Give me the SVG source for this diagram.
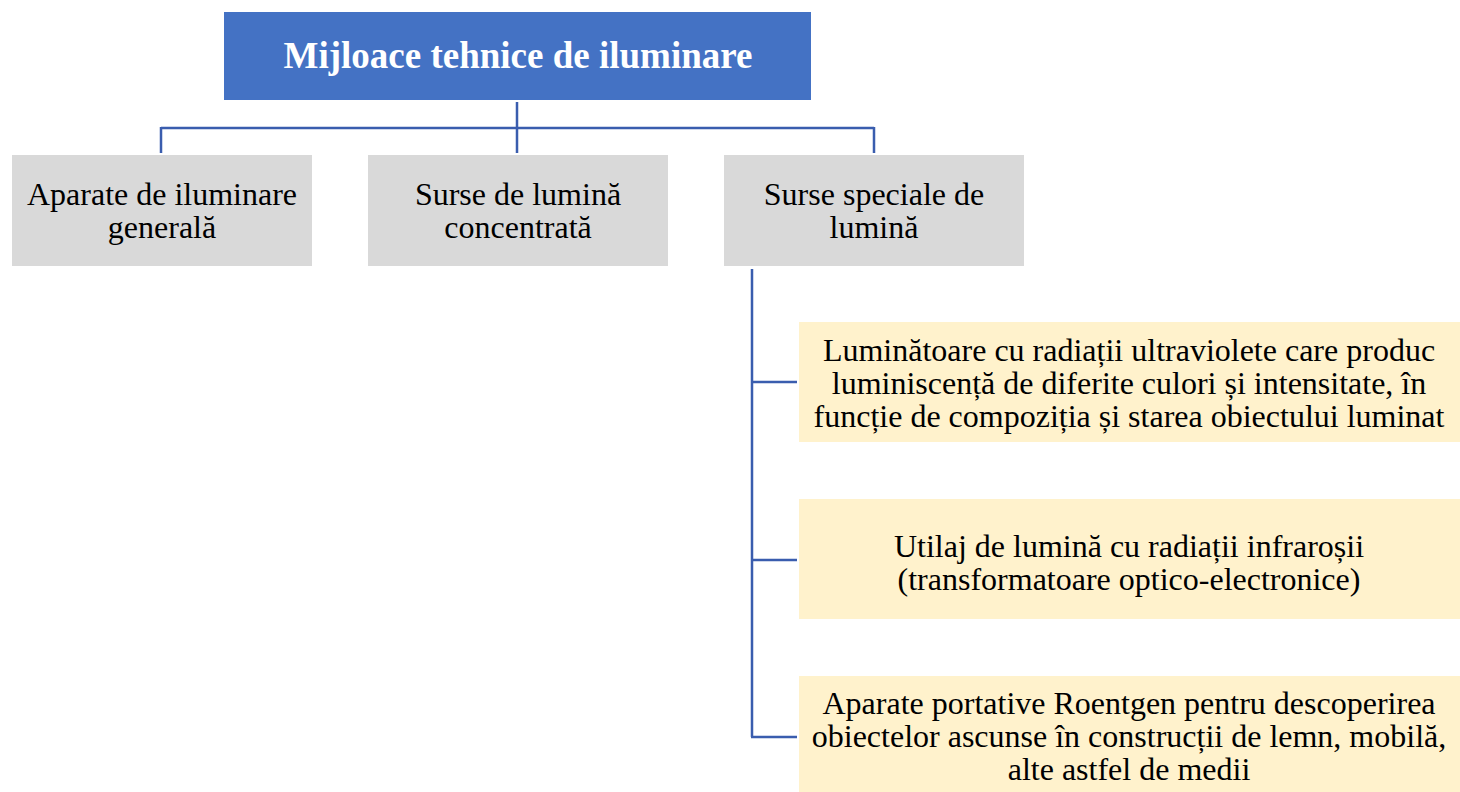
<svg xmlns="http://www.w3.org/2000/svg" width="1460" height="792" viewBox="0 0 1460 792">
<style>
.t{font-family:"Liberation Serif","Times New Roman",serif;font-size:32px;fill:#000;text-anchor:middle}
.title{font-family:"Liberation Serif","Times New Roman",serif;font-size:37px;font-weight:bold;fill:#fff;text-anchor:middle}
.g{fill:#D9D9D9}
.y{fill:#FFF2CC}
.c{fill:none;stroke:#3A5DAE;stroke-width:2.5}
</style>
<rect width="1460" height="792" fill="#fff"/>
<g id="connectors">
<path class="c" d="M517,102 V128 M161,128 H874 M161,127 V153 M517,128 V153 M874,127 V153"/>
<path class="c" d="M752,269 V737 M752,382 H797 M752,560 H797 M751,737 H797"/>
</g>
<g id="root">
<rect x="224" y="12" width="587" height="88" fill="#4472C4"/>
<text class="title" x="518" y="68">Mijloace tehnice de iluminare</text>
</g>
<g id="n1">
<rect class="g" x="12" y="155" width="300" height="111"/>
<text class="t" x="162" y="205">Aparate de iluminare</text>
<text class="t" x="162" y="238">generală</text>
</g>
<g id="n2">
<rect class="g" x="368" y="155" width="300" height="111"/>
<text class="t" x="518" y="205">Surse de lumină</text>
<text class="t" x="518" y="238">concentrată</text>
</g>
<g id="n3">
<rect class="g" x="724" y="155" width="300" height="111"/>
<text class="t" x="874" y="205">Surse speciale de</text>
<text class="t" x="874" y="238">lumină</text>
</g>
<g id="s1">
<rect class="y" x="799" y="322" width="661" height="120"/>
<text class="t" x="1129" y="361">Luminătoare cu radiații ultraviolete care produc</text>
<text class="t" x="1129" y="394">luminiscență de diferite culori și intensitate, în</text>
<text class="t" x="1129" y="427">funcție de compoziția și starea obiectului luminat</text>
</g>
<g id="s2">
<rect class="y" x="799" y="499" width="661" height="120"/>
<text class="t" x="1129" y="557">Utilaj de lumină cu radiații infraroșii</text>
<text class="t" x="1129" y="590">(transformatoare optico-electronice)</text>
</g>
<g id="s3">
<rect class="y" x="799" y="676" width="661" height="116"/>
<text class="t" x="1129" y="714">Aparate portative Roentgen pentru descoperirea</text>
<text class="t" x="1129" y="747">obiectelor ascunse în construcții de lemn, mobilă,</text>
<text class="t" x="1129" y="780">alte astfel de medii</text>
</g>
</svg>
